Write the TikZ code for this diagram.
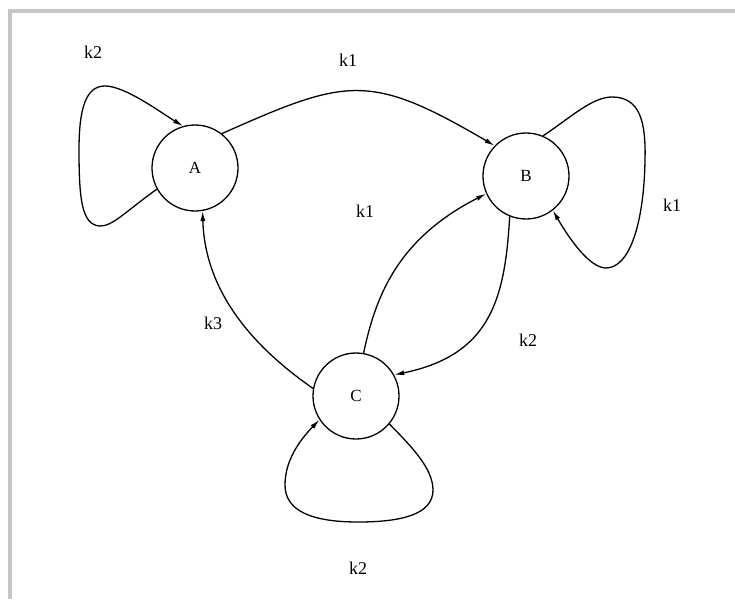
\documentclass[tikz,border=0pt]{standalone}
\usepackage{fontspec}
\setmainfont{Liberation Serif}
\usetikzlibrary{arrows.meta}
\begin{document}
\begin{tikzpicture}[x=1pt,y=-1pt,
  state/.style={draw,line width=1.3pt,circle,minimum size=86pt,inner sep=0pt,font=\fontsize{17}{19}\selectfont},
  lbl/.style={font=\fontsize{18}{20}\selectfont,inner sep=0pt},
  edge/.style={draw,line width=1.3pt,-{Latex[length=10pt,width=5pt]}}]
\useasboundingbox (0,0) rectangle (735,599);
\fill[gray!45] (8,9) rectangle (735,13);
\fill[gray!45] (8,9) rectangle (12,599);
\node[state] (A) at (195,168) {A};
\node[state] (B) at (526,176) {B};
\node[state] (C) at (356,396) {C};
\node[lbl] (l1) at (93,52) {k2};
\node[lbl] (l2) at (348,60) {k1};
\node[lbl] (l3) at (365,211) {k1};
\node[lbl] (l4) at (672,205) {k1};
\node[lbl] (l5) at (213,323) {k3};
\node[lbl] (l6) at (528,340) {k2};
\node[lbl] (l7) at (358,568) {k2};
% A self loop
\path[edge] (A.209) .. controls (125,212) and (112,227) .. (99,226)
  .. controls (82,224) and (79,200) .. (79,150)
  .. controls (79,108) and (86,86) .. (105,86)
  .. controls (125,86) and (160,112) .. (A.106);
% A -> B
\path[edge] (A.52) .. controls (347,78) and (369,72) .. (B.136);
% B self loop
\path[edge] (B.67) .. controls (570,118) and (592,97) .. (612,97)
  .. controls (640,97) and (646,122) .. (645,160)
  .. controls (644,222) and (630,268) .. (606,268)
  .. controls (590,268) and (570,240) .. (B.-52);
% C -> B
\path[edge] (C.80) .. controls (375,300) and (395,240) .. (B.204);
% B -> C
\path[edge] (B.248) .. controls (505,300) and (490,355) .. (C.29);
% C -> A
\path[edge] (C.170) .. controls (265,355) and (205,300) .. (A.280);
% C self loop
\path[edge] (C.-40) .. controls (410,445) and (433,468) .. (433,490)
  .. controls (433,515) and (400,522) .. (358,522)
  .. controls (310,522) and (285,510) .. (285,485)
  .. controls (285,460) and (300,440) .. (C.213);
\end{tikzpicture}
\end{document}
